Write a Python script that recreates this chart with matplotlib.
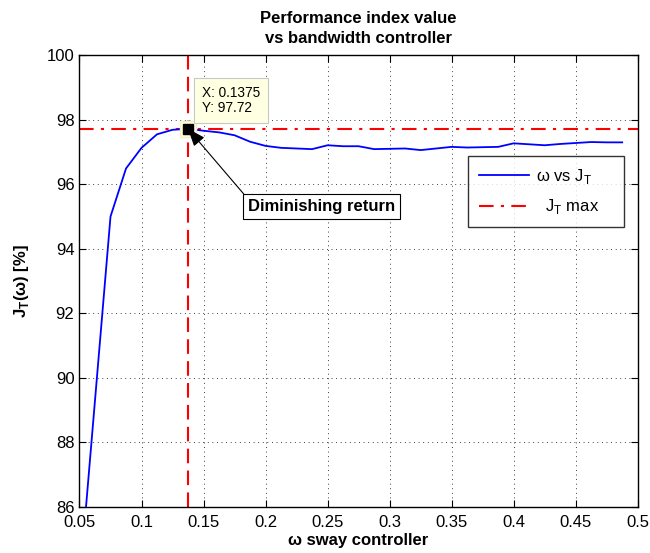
import numpy as np
import matplotlib
matplotlib.use("Agg")
import matplotlib.pyplot as plt

plt.rcParams['font.family'] = ['Liberation Sans', 'DejaVu Sans']

omega = [0.05, 0.0625, 0.075, 0.0875, 0.1, 0.1125, 0.125, 0.1375, 0.15, 0.1625,
         0.175, 0.1875, 0.2, 0.2125, 0.225, 0.2375, 0.25, 0.2625, 0.275, 0.2875,
         0.3, 0.3125, 0.325, 0.3375, 0.35, 0.3625, 0.375, 0.3875, 0.4, 0.4125,
         0.425, 0.4375, 0.45, 0.4625, 0.475, 0.4875]
jt = [83.6, 89.3, 95.0, 96.49, 97.13, 97.55, 97.69, 97.72, 97.66, 97.61,
      97.52, 97.32, 97.19, 97.13, 97.11, 97.09, 97.21, 97.18, 97.18, 97.09,
      97.10, 97.11, 97.06, 97.11, 97.16, 97.14, 97.15, 97.16, 97.27, 97.24,
      97.21, 97.25, 97.28, 97.31, 97.30, 97.30]
x_max = 0.1375
y_max = 97.72
xticks = [0.05, 0.1, 0.15, 0.2, 0.25, 0.3, 0.35, 0.4, 0.45, 0.5]
xticklabels = ['0.05', '0.1', '0.15', '0.2', '0.25', '0.3', '0.35', '0.4', '0.45', '0.5']
yticks = [86, 88, 90, 92, 94, 96, 98, 100]

fig = plt.figure(figsize=(6.5, 5.53), dpi=100)
ax = fig.add_axes([0.1223, 0.0837, 0.8588, 0.8163])

ax.plot(omega, jt, color='#0000ff', lw=1.3, label='\u03c9 vs J$_\\mathregular{T}$', zorder=3)
ax.axhline(y_max, color='#ff0000', lw=1.5, ls=(0, (7, 3.5, 1.5, 3.5)),
           label='  J$_\\mathregular{T}$ max\u00a0\u00a0\u00a0\u00a0', zorder=2)
ax.axvline(x_max, color='#ff0000', lw=1.5, ls=(0, (7, 3.5)), zorder=2)

# datatip marker
ax.plot([x_max], [y_max], marker='s', ms=11, color='#ffffe1', mec='#f5f0c0', zorder=4)
ax.plot([x_max], [y_max], marker='s', ms=7, color='black', zorder=5)

ax.set_xlim(0.05, 0.5)
ax.set_ylim(86, 100)
ax.set_xticks(xticks)
ax.set_xticklabels(xticklabels)
ax.set_yticks(yticks)
ax.tick_params(direction='in', top=True, right=True, length=5, width=0.8,
               labelsize=12)
ax.tick_params(axis='x', pad=6)
ax.tick_params(axis='y', pad=3.6)
ax.grid(True, color='black', ls=(0, (1, 4.5)), lw=0.6)
for s in ax.spines.values():
    s.set_linewidth(1.0)

ax.set_title('Performance index value\nvs bandwidth controller', fontsize=12,
             fontweight='bold', pad=9, linespacing=1.4)
ax.set_xlabel('\u03c9 sway controller', fontsize=12, fontweight='bold', labelpad=2)
ax.set_ylabel('J$_\\mathregular{T}$(\u03c9) [%]', fontsize=12, fontweight='bold')
ax.yaxis.set_label_coords(-0.087, 0.5)

# datatip box
ax.text(0.1486, 98.60, 'X: 0.1375\nY: 97.72', fontsize=9.8, va='center', ha='left',
        linespacing=1.15,
        bbox=dict(boxstyle='square,pad=0.55', fc='#ffffe1', ec='#c8c8c8', lw=0.8),
        zorder=6)

# annotation
ax.annotate('Diminishing return', xy=(x_max, y_max), xytext=(0.1861, 95.30),
            fontsize=12, fontweight='bold', va='center', ha='left',
            bbox=dict(boxstyle='square,pad=0.3', fc='white', ec='black', lw=0.8),
            arrowprops=dict(arrowstyle='-|>,head_length=0.9,head_width=0.35',
                            color='black', lw=0.8, shrinkA=0, shrinkB=0,
                            relpos=(0.0, 1.0)),
            zorder=6)

leg = ax.legend(loc='upper right', bbox_to_anchor=(0.9755, 0.777), fontsize=12,
                frameon=True, fancybox=False, edgecolor='black', handlelength=3.0,
                borderpad=0.65, labelspacing=0.7, handletextpad=0.4, borderaxespad=0)
leg.get_frame().set_linewidth(1.0)

fig.savefig('out.png', dpi=100, facecolor='white')
